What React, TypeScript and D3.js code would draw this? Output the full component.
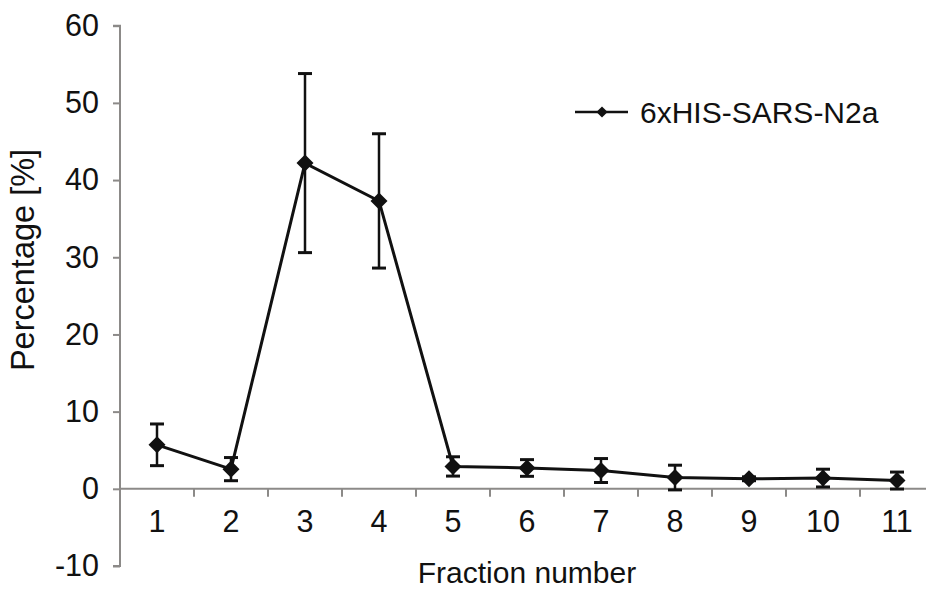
import React, { useRef, useEffect } from 'react';
import * as d3 from 'd3';

const fractions = ['1', '2', '3', '4', '5', '6', '7', '8', '9', '10', '11'];
const percentage = [5.7, 2.55, 42.2, 37.3, 2.9, 2.7, 2.37, 1.46, 1.3, 1.39, 1.07];
const errors = [2.7, 1.5, 11.6, 8.7, 1.25, 1.08, 1.55, 1.6, 0.25, 1.15, 1.1];
const yTicks = [-10, 0, 10, 20, 30, 40, 50, 60];
const seriesName = '6xHIS-SARS-N2a';

const W = 926;
const H = 589;
const FONT = '"Liberation Sans", Arial, sans-serif';
const AXIS = '#8c8a88';
const INK = '#111';

function App() {
  const svgRef = useRef<SVGSVGElement>(null);

  useEffect(() => {
    const svg = d3.select(svgRef.current);
    svg.selectAll('*').remove();

    const x = d3.scaleBand().domain(fractions).range([120, 934]).padding(0);
    const y = d3.scaleLinear().domain([-10, 60]).range([566, 25.7]);
    const cx = (c: string) => (x(c) as number) + x.bandwidth() / 2;

    // y axis
    const yAxis = svg
      .append('g')
      .attr('transform', 'translate(120,0)')
      .call(d3.axisLeft(y).tickValues(yTicks).tickSize(7).tickPadding(14).tickFormat((d) => String(d)));
    yAxis.select('.domain').attr('stroke', AXIS).attr('stroke-width', 2).attr('d', `M-7,${y(60)}H0V${y(-10)}H-7`);
    yAxis.selectAll('.tick line').attr('stroke', AXIS).attr('stroke-width', 2);
    yAxis
      .selectAll('.tick text')
      .attr('fill', INK)
      .style('font-family', FONT)
      .style('font-size', '30.5px');

    // x axis at y = 0
    const y0 = y(0);
    svg
      .append('line')
      .attr('x1', 120)
      .attr('x2', 934)
      .attr('y1', y0)
      .attr('y2', y0)
      .attr('stroke', AXIS)
      .attr('stroke-width', 2);
    svg
      .selectAll('.xtick')
      .data(fractions.slice(1).concat(['end']))
      .join('line')
      .attr('class', 'xtick')
      .attr('x1', (d) => (d === 'end' ? 934 : (x(d) as number)))
      .attr('x2', (d) => (d === 'end' ? 934 : (x(d) as number)))
      .attr('y1', y0)
      .attr('y2', y0 + 8)
      .attr('stroke', AXIS)
      .attr('stroke-width', 2);
    svg
      .selectAll('.xlabel')
      .data(fractions)
      .join('text')
      .attr('class', 'xlabel')
      .attr('x', (d) => cx(d))
      .attr('y', 532)
      .attr('text-anchor', 'middle')
      .attr('fill', INK)
      .style('font-family', FONT)
      .style('font-size', '30.5px')
      .text((d) => d);

    // axis titles
    svg
      .append('text')
      .attr('x', 527)
      .attr('y', 583)
      .attr('text-anchor', 'middle')
      .attr('fill', INK)
      .style('font-family', FONT)
      .style('font-size', '30px')
      .text('Fraction number');
    svg
      .append('text')
      .attr('transform', 'translate(34,260) rotate(-90)')
      .attr('text-anchor', 'middle')
      .attr('fill', INK)
      .style('font-family', FONT)
      .style('font-size', '32.5px')
      .text('Percentage [%]');

    const pts = fractions.map((f, i) => ({ f, v: percentage[i], e: errors[i] }));

    // error bars
    const eb = svg.append('g').attr('stroke', INK);
    pts.forEach((p) => {
      const px = cx(p.f);
      eb.append('line')
        .attr('x1', px)
        .attr('x2', px)
        .attr('y1', y(p.v + p.e))
        .attr('y2', y(p.v - p.e))
        .attr('stroke-width', 2.5);
      [p.v + p.e, p.v - p.e].forEach((v) => {
        eb.append('line')
          .attr('x1', px - 7)
          .attr('x2', px + 7)
          .attr('y1', y(v))
          .attr('y2', y(v))
          .attr('stroke-width', 3);
      });
    });

    // series line
    const line = d3
      .line<{ f: string; v: number }>()
      .x((d) => cx(d.f))
      .y((d) => y(d.v));
    svg
      .append('path')
      .datum(pts)
      .attr('d', line)
      .attr('fill', 'none')
      .attr('stroke', INK)
      .attr('stroke-width', 3);

    // markers
    const diamond = d3.symbol().type(d3.symbolDiamond2).size(185);
    svg
      .selectAll('.marker')
      .data(pts)
      .join('path')
      .attr('class', 'marker')
      .attr('d', diamond)
      .attr('transform', (d) => `translate(${cx(d.f)},${y(d.v)})`)
      .attr('fill', INK);

    // legend
    const lg = svg.append('g');
    lg.append('line')
      .attr('x1', 575)
      .attr('x2', 628)
      .attr('y1', 112)
      .attr('y2', 112)
      .attr('stroke', INK)
      .attr('stroke-width', 2.5);
    lg.append('path')
      .attr('d', d3.symbol().type(d3.symbolDiamond2).size(80))
      .attr('transform', 'translate(602,112)')
      .attr('fill', INK);
    lg.append('text')
      .attr('x', 640)
      .attr('y', 123)
      .attr('fill', INK)
      .style('font-family', FONT)
      .style('font-size', '30px')
      .text(seriesName);
  }, []);

  return (
    <svg
      ref={svgRef}
      width={W}
      height={H}
      style={{ position: 'absolute', left: 0, top: 0, background: '#fff' }}
    ></svg>
  );
}

export default App;
